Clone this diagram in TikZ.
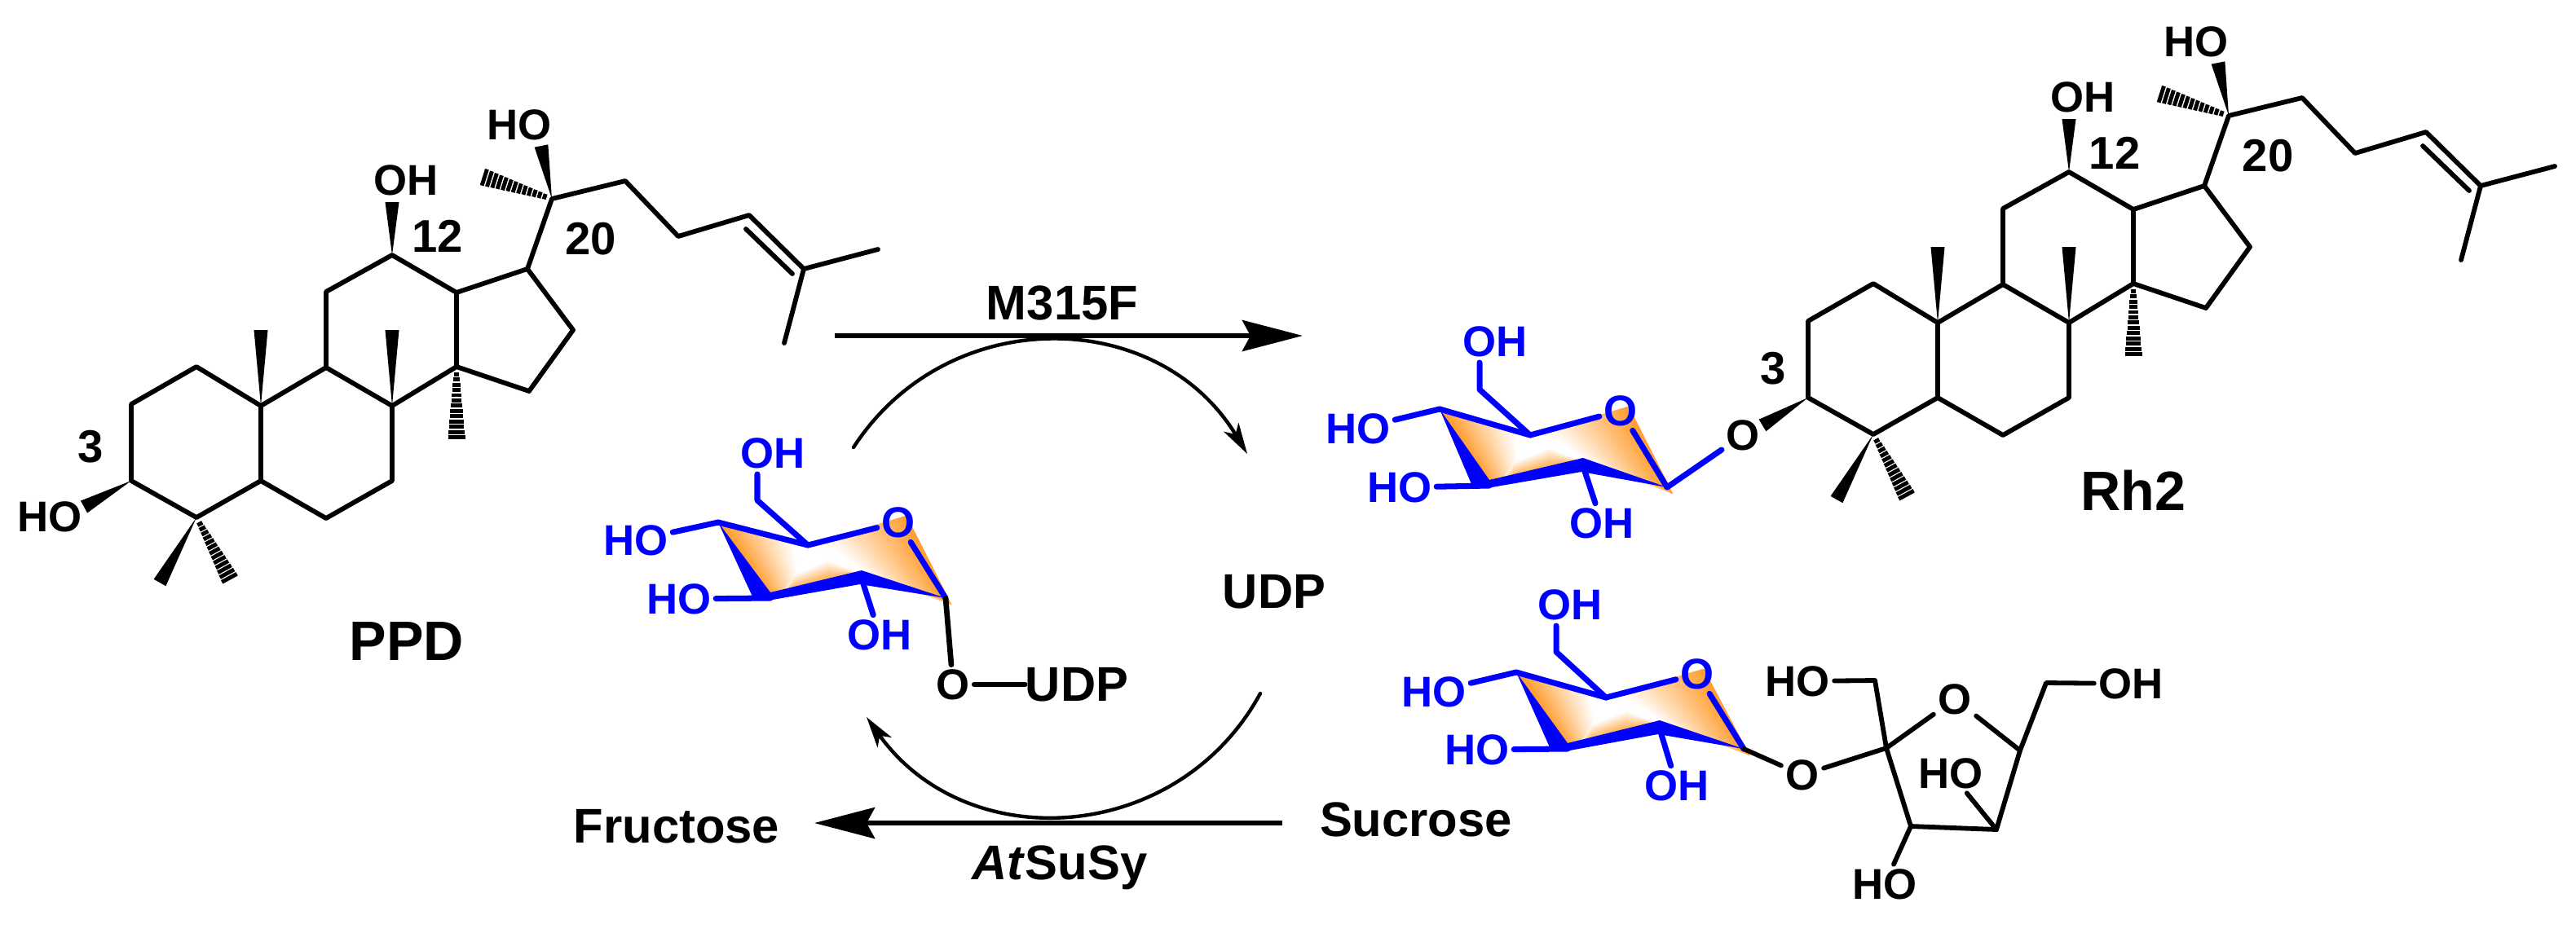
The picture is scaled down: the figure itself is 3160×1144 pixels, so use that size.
\documentclass[tikz,border=0pt]{standalone}
\usepackage{fontspec}
\setmainfont{Liberation Sans}
\usetikzlibrary{arrows.meta,calc}

\definecolor{sugarblue}{RGB}{0,0,255}
\definecolor{sugarorange}{RGB}{255,140,10}

\tikzset{
  bond/.style={line width=1.65pt, line cap=round, line join=round},
  sugarbond/.style={line width=2pt, line cap=round, line join=round, sugarblue},
  atom/.style={font=\fontsize{15}{16}\selectfont\bfseries, inner sep=1.4pt},
  bluatom/.style={atom, text=sugarblue},
  locant/.style={font=\fontsize{16}{17}\selectfont\bfseries, inner sep=0pt},
  title/.style={font=\fontsize{19.4}{20}\selectfont\bfseries, inner sep=0pt},
  compound/.style={font=\fontsize{17}{18}\selectfont\bfseries, inner sep=0pt},
  mainarrow/.style={line width=1.7pt, -{Stealth[length=.74cm,width=.38cm,inset=.1cm]}},
  cyclearrow/.style={line width=1.25pt, line cap=round, -{Stealth[length=.38cm,width=.21cm,inset=.1cm]}}
}

\newcommand{\wedgebond}[2]{%
  \fill ($(#2)!.085cm!90:(#1)$) -- (#1) -- ($(#2)!.085cm!-90:(#1)$) -- cycle;}
\newcommand{\hashbond}[2]{%
  \foreach \q in {.1,.17,...,.98}
    \draw[line width=1.4pt]
      ($(#1)!\q!(#2)!{(.025+\q*.085)*1cm}!90:(#2)$) --
      ($(#1)!\q!(#2)!{(.025+\q*.085)*1cm}!-90:(#2)$);}

% the two aglycones are the same drawing
\newcommand{\steroid}{%
  \coordinate (c1) at (241,450);
  \coordinate (c2) at (161,496);
  \coordinate (c3) at (161,590);
  \coordinate (c4) at (241,635);
  \coordinate (c5) at (320,590);
  \coordinate (c6) at (400,636);
  \coordinate (c7) at (481,590);
  \coordinate (c8) at (481,498);
  \coordinate (c9) at (400,451);
  \coordinate (c10) at (320,498);
  \coordinate (c11) at (400,358);
  \coordinate (c12) at (481,313);
  \coordinate (c13) at (560,359);
  \coordinate (c14) at (560,450);
  \coordinate (c15) at (649,480);
  \coordinate (c16) at (703,405);
  \coordinate (c17) at (647,330);
  \coordinate (c20) at (677,244);
  \coordinate (c22) at (767,222);
  \coordinate (c23) at (832,290);
  \coordinate (c24) at (919,264);
  \coordinate (c25) at (986,330);
  \coordinate (c26) at (1077,306);
  \coordinate (c27) at (962,421);
  \draw[bond] (c3) -- (c2) -- (c1) -- (c10) -- (c5) -- (c4) -- cycle;
  \draw[bond] (c10) -- (c9) -- (c8) -- (c7) -- (c6) -- (c5);
  \draw[bond] (c9) -- (c11) -- (c12) -- (c13) -- (c14) -- (c8);
  \draw[bond] (c13) -- (c17) -- (c16) -- (c15) -- (c14);
  \draw[bond] (c17) -- (c20) -- (c22) -- (c23) -- (c24) -- (c25) -- (c26);
  \draw[bond] (c25) -- (c27);
  \draw[bond] (915,281) -- (972,336);
  \coordinate (me10) at (320,405);
  \coordinate (me8) at (481,405);
  \coordinate (me14) at (560,542);
  \coordinate (me4a) at (196,715);
  \coordinate (me4b) at (284,714);
  \coordinate (me20) at (589,216);
  \coordinate (oh12) at (481,248);
  \coordinate (oh20) at (664,179);
  \wedgebond{c10}{me10}
  \wedgebond{c8}{me8}
  \wedgebond{c4}{me4a}
  \wedgebond{c12}{oh12}
  \wedgebond{c20}{oh20}
  \hashbond{c14}{me14}
  \hashbond{c4}{me4b}
  \hashbond{c20}{me20}
  \node[atom] (ol12) at (498,221) {OH};
  \node[atom] (ol20) at (637,153) {HO};
  \node[locant] (n12) at (537,290) {12};
  \node[locant] (n20) at (725,293) {20};
}

% ring corners sa sb sc sd se sx are set before each call
\newcommand{\sugarring}{%
  \foreach \q in {0,.05,...,1} {
    \pgfmathsetmacro\tone{max(0,85-105*\q)}
    \fill[sugarorange!\tone!white] ($(sa)!\q!(se)$) -- (se) -- (sc) -- ($(sb)!{.4*\q}!(sc)$) -- cycle;
  }
  \foreach \q in {0,.05,...,.96} {
    \pgfmathsetmacro\tone{max(0,(\q-.12)*100)}
    \fill[sugarorange!\tone!white] ($(se)!\q!(sx)$) -- (sx) -- ($(sd)+(7,8)$) -- ($(sc)!\q!(sd)$) -- cycle;
  }
  \coordinate (pa) at ($(sb)!.27!(sc)$);
  \coordinate (qa) at ($(sb)!.65!(sc)$);
  \coordinate (pb) at ($(pa)+(0,-22)$);
  \coordinate (qb) at ($(qa)+(0,-28)$);
  \coordinate (lm) at ($(sb)!.12!(sc)$);
  \foreach \q in {.08,.16,...,.96} {
    \pgfmathsetmacro\tone{85*\q}
    \fill[sugarorange!\tone!white] (lm) -- ($(pb)!\q!(pa)$) -- ($(qb)!\q!(qa)$) -- (sc) -- cycle;
  }
  \fill[sugarblue] (sa) -- ([shift={(-22,-2)}]sb) -- ([shift={(-3,3)}]sb)
    -- ([shift={(0,13)}]sc) -- (sd) -- ([shift={(2,-4)}]sc) -- ([shift={(0,-7)}]sb) -- cycle;
}

\begin{document}
\begin{tikzpicture}[x=0.01cm,y=-0.01cm]
  \useasboundingbox (0,0) rectangle (3160,1144);

  % PPD
  \steroid
  \coordinate (oh3) at (103,622);
  \wedgebond{c3}{oh3}
  \node[atom] (ol3) at (61,634) {HO};
  \node[locant] (n3) at (111,548) {3};
  \node[title] (ppd) at (499,787) {PPD};

  % Rh2
  \begin{scope}[shift={(2057,-102)}]
    \steroid
  \end{scope}
  \coordinate (oh3) at (2162,522);
  \wedgebond{c3}{oh3}
  \node[locant] (n3) at (2175,452) {3};
  \node[title] (rh) at (2617,602) {Rh2};

  % sugar on Rh2
  \coordinate (sa) at (1766,502);
  \coordinate (se) at (1877,534);
  \coordinate (sx) at (1998,499);
  \coordinate (sd) at (2045,598);
  \coordinate (sc) at (1940,566);
  \coordinate (sb) at (1827,596);
  \sugarring
  \coordinate (sf) at (1815,478);
  \node[bluatom] (o1) at (1988,504) {O};
  \node[atom] (o2) at (2138,534) {O};
  \node[bluatom] (h1) at (1666,526) {HO};
  \node[bluatom] (h2) at (1717,598) {HO};
  \node[bluatom] (h3) at (1965,642) {OH};
  \node[bluatom] (h4) at (1834,419) {OH};
  \draw[sugarbond] (sa) -- (se) -- (o1);
  \draw[sugarbond] (o1) -- (sd) -- (o2);
  \draw[sugarbond] (sa) -- (h1);
  \draw[sugarbond] (h2) -- (sb);
  \draw[sugarbond] (sc) -- (h3);
  \draw[sugarbond] (se) -- (sf) -- (1815,445);

  % UDP-glucose
  \coordinate (sa) at (881,641);
  \coordinate (se) at (991,669);
  \coordinate (sx) at (1112,633);
  \coordinate (sd) at (1160,734);
  \coordinate (sc) at (1055,704);
  \coordinate (sb) at (945,734);
  \sugarring
  \coordinate (sf) at (929,614);
  \node[bluatom] (u1) at (1102,641) {O};
  \node[bluatom] (u2) at (780,663) {HO};
  \node[bluatom] (u3) at (833,735) {HO};
  \node[bluatom] (u4) at (1079,779) {OH};
  \node[bluatom] (u5) at (948,556) {OH};
  \node[atom] (u6) at (1169,840) {O};
  \node[compound] (udpa) at (1321,840) {UDP};
  \draw[sugarbond] (sa) -- (se) -- (u1);
  \draw[sugarbond] (u1) -- (sd);
  \draw[sugarbond] (sa) -- (u2);
  \draw[sugarbond] (u3) -- (sb);
  \draw[sugarbond] (sc) -- (u4);
  \draw[sugarbond] (se) -- (sf) -- (929,582);
  \draw[bond, line width=1.9pt] (sd) -- (u6);
  \draw[bond, line width=1.9pt] (u6) -- (udpa);

  % sucrose
  \coordinate (sa) at (1860,825);
  \coordinate (se) at (1970,856);
  \coordinate (sx) at (2090,821);
  \coordinate (sd) at (2139,919);
  \coordinate (sc) at (2034,888);
  \coordinate (sb) at (1923,919);
  \sugarring
  \coordinate (sf) at (1909,800);
  \node[bluatom] (s1) at (2082,827) {O};
  \node[bluatom] (s2) at (1759,849) {HO};
  \node[bluatom] (s3) at (1812,920) {HO};
  \node[bluatom] (s4) at (2057,964) {OH};
  \node[bluatom] (s5) at (1926,742) {OH};
  \draw[sugarbond] (sa) -- (se) -- (s1);
  \draw[sugarbond] (s1) -- (sd);
  \draw[sugarbond] (sa) -- (s2);
  \draw[sugarbond] (s3) -- (sb);
  \draw[sugarbond] (sc) -- (s4);
  \draw[sugarbond] (se) -- (sf) -- (1909,768);

  % fructose part
  \coordinate (f2) at (2314,918);
  \coordinate (f1) at (2300,835);
  \coordinate (f3) at (2344,1014);
  \coordinate (f4) at (2449,1018);
  \coordinate (f5) at (2478,921);
  \coordinate (f6) at (2510,838);
  \node[atom] (s6) at (2211,951) {O};
  \node[atom] (f7) at (2398,858) {O};
  \node[atom] (f8) at (2205,836) {HO};
  \node[atom] (f9) at (2614,839) {OH};
  \node[atom] (f10) at (2393,949) {HO};
  \node[atom] (f11) at (2312,1085) {HO};
  \draw[bond] (sd) -- (s6) -- (f2);
  \draw[bond] (f8) -- (f1) -- (f2) -- (f7) -- (f5);
  \draw[bond] (f2) -- (f3) -- (f4) -- (f5) -- (f6) -- (f9);
  \draw[bond] (f10) -- (f4);
  \draw[bond] (f3) -- (f11);

  % arrows
  \coordinate (m1) at (1024,412);
  \coordinate (m2) at (1598,412);
  \coordinate (t1) at (1573,1010);
  \coordinate (t2) at (999,1010);
  \coordinate (a1) at (1047,549);
  \coordinate (a2) at (1530,557);
  \coordinate (b1) at (1546,851);
  \coordinate (b2) at (1063,880);
  \draw[mainarrow] (m1) -- (m2);
  \draw[mainarrow] (t1) -- (t2);
  \draw[cyclearrow] (a1) to[bend left=58, looseness=1.12] (a2);
  \draw[cyclearrow] (b1) to[bend left=58, looseness=1.12] (b2);
  \node[compound] (mut) at (1303,372) {M315F};
  \node[compound] (udpb) at (1563,726) {UDP};
  \node[compound] (fru) at (830,1014) {Fructose};
  \node[compound] (suc) at (1737,1006) {Sucrose};
  \node[compound] (sus) at (1300,1065) {\textit{At}SuSy};
\end{tikzpicture}
\end{document}
